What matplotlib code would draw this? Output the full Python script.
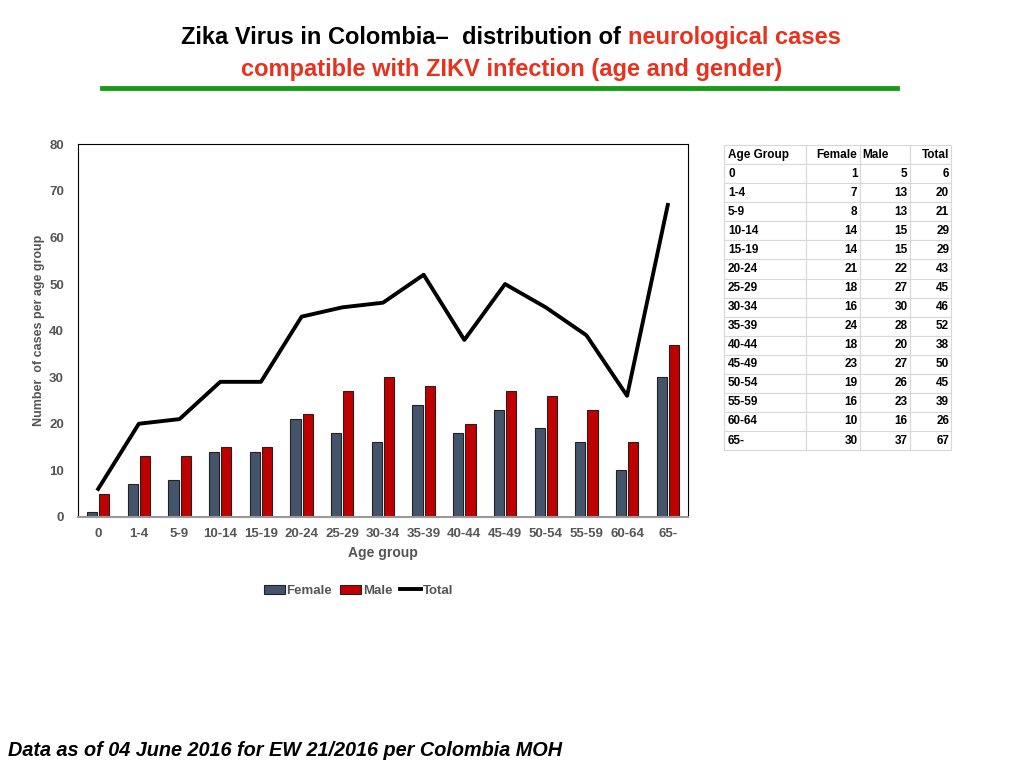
import numpy as np
import matplotlib
matplotlib.use("Agg")
from matplotlib import pyplot as plt

# Neurological cases compatible with ZIKV, by age group and gender
age_groups = ['0', '1-4', '5-9', '10-14', '15-19', '20-24', '25-29', '30-34',
              '35-39', '40-44', '45-49', '50-54', '55-59', '60-64', '65-']
female = [1, 7, 8, 14, 14, 21, 18, 16, 24, 18, 23, 19, 16, 10, 30]
male = [5, 13, 13, 15, 15, 22, 27, 30, 28, 20, 27, 26, 23, 16, 37]
total = [6, 20, 21, 29, 29, 43, 45, 46, 52, 38, 50, 45, 39, 26, 67]

plt.rcParams['font.family'] = ['Liberation Sans', 'DejaVu Sans']

fig = plt.figure(figsize=(10.24, 7.68), dpi=100)

# Title, two colours on the first line
red = '#E8321E'
fig.text(0.613, 0.951, 'Zika Virus in Colombia\u2013  distribution of ', ha='right',
         va='center', fontsize=17, fontweight='bold', color='black')
fig.text(0.613, 0.951, 'neurological cases', ha='left', va='center',
         fontsize=17, fontweight='bold', color=red)
fig.text(0.5, 0.909, 'compatible with ZIKV infection (age and gender)', ha='center',
         va='center', fontsize=17, fontweight='bold', color=red)
fig.add_artist(plt.Line2D([0.1, 0.876], [0.886, 0.886], color='#1A9A1A', lw=3.5))

# Chart
ax = fig.add_axes([0.076, 0.327, 0.596, 0.485])
x = np.arange(len(age_groups))
w = 0.25
hf = ax.bar(x - 0.15, female, w, color='#44546A', edgecolor='#222222', lw=0.8, label='Female')
hm = ax.bar(x + 0.15, male, w, color='#C00000', edgecolor='#222222', lw=0.8, label='Male')
ht, = ax.plot(x, total, color='black', lw=2.8, label='Total')

ax.set_ylim(0, 80)
ax.set_xlim(-0.5, len(age_groups) - 0.5)
ax.set_yticks(range(0, 81, 10))
ax.set_xticks(x)
ax.set_xticklabels(age_groups)
ax.tick_params(length=0, labelsize=9.5, labelcolor='#555555', pad=8)
for lab in ax.get_xticklabels() + ax.get_yticklabels():
    lab.set_fontweight('bold')
ax.yaxis.set_tick_params(pad=10)
for s in ['left', 'top', 'right']:
    ax.spines[s].set_color('black')
    ax.spines[s].set_linewidth(0.8)
ax.spines['bottom'].set_color('#999999')
ax.spines['bottom'].set_linewidth(1.5)
ax.set_xlabel('Age group', fontsize=10, fontweight='bold', color='#555555')
ax.set_ylabel('Number  of cases per age group', fontsize=9, fontweight='bold',
              color='#555555')
ax.yaxis.set_label_coords(-0.053, 0.5)

leg = ax.legend(handles=[hf, hm, ht], loc='upper center', bbox_to_anchor=(0.46, -0.15),
                ncol=3, frameon=False, fontsize=9.5, handlelength=1.6,
                handletextpad=0.1, columnspacing=0.6)
for t in leg.get_texts():
    t.set_fontweight('bold')
    t.set_color('#555555')

# Data table on the right
cell_text = [[a, str(f), str(m), str(t)] for a, f, m, t in zip(age_groups, female, male, total)]
tax = fig.add_axes([0.707, 0.414, 0.222, 0.397])
tax.axis('off')
tbl = tax.table(cellText=cell_text, colLabels=['Age Group', 'Female', 'Male', 'Total'],
                colWidths=[82, 54, 50, 41], bbox=[0, 0, 1, 1])
tbl.auto_set_font_size(False)
for (r, c), cell in tbl.get_celld().items():
    cell.set_edgecolor('#D8D8D8')
    cell.set_linewidth(0.8)
    cell.get_text().set_fontsize(8.5)
    cell.get_text().set_fontweight('bold')
    cell.PAD = 0.05
    if c == 0 or (r == 0 and c == 2):
        cell.get_text().set_ha('left')
    else:
        cell.get_text().set_ha('right')

fig.text(0.008, 0.023, 'Data as of 04 June 2016 for EW 21/2016 per Colombia MOH',
         fontsize=14.3, fontweight='bold', fontstyle='italic', ha='left', va='center')

fig.savefig('out.png', dpi=100)
